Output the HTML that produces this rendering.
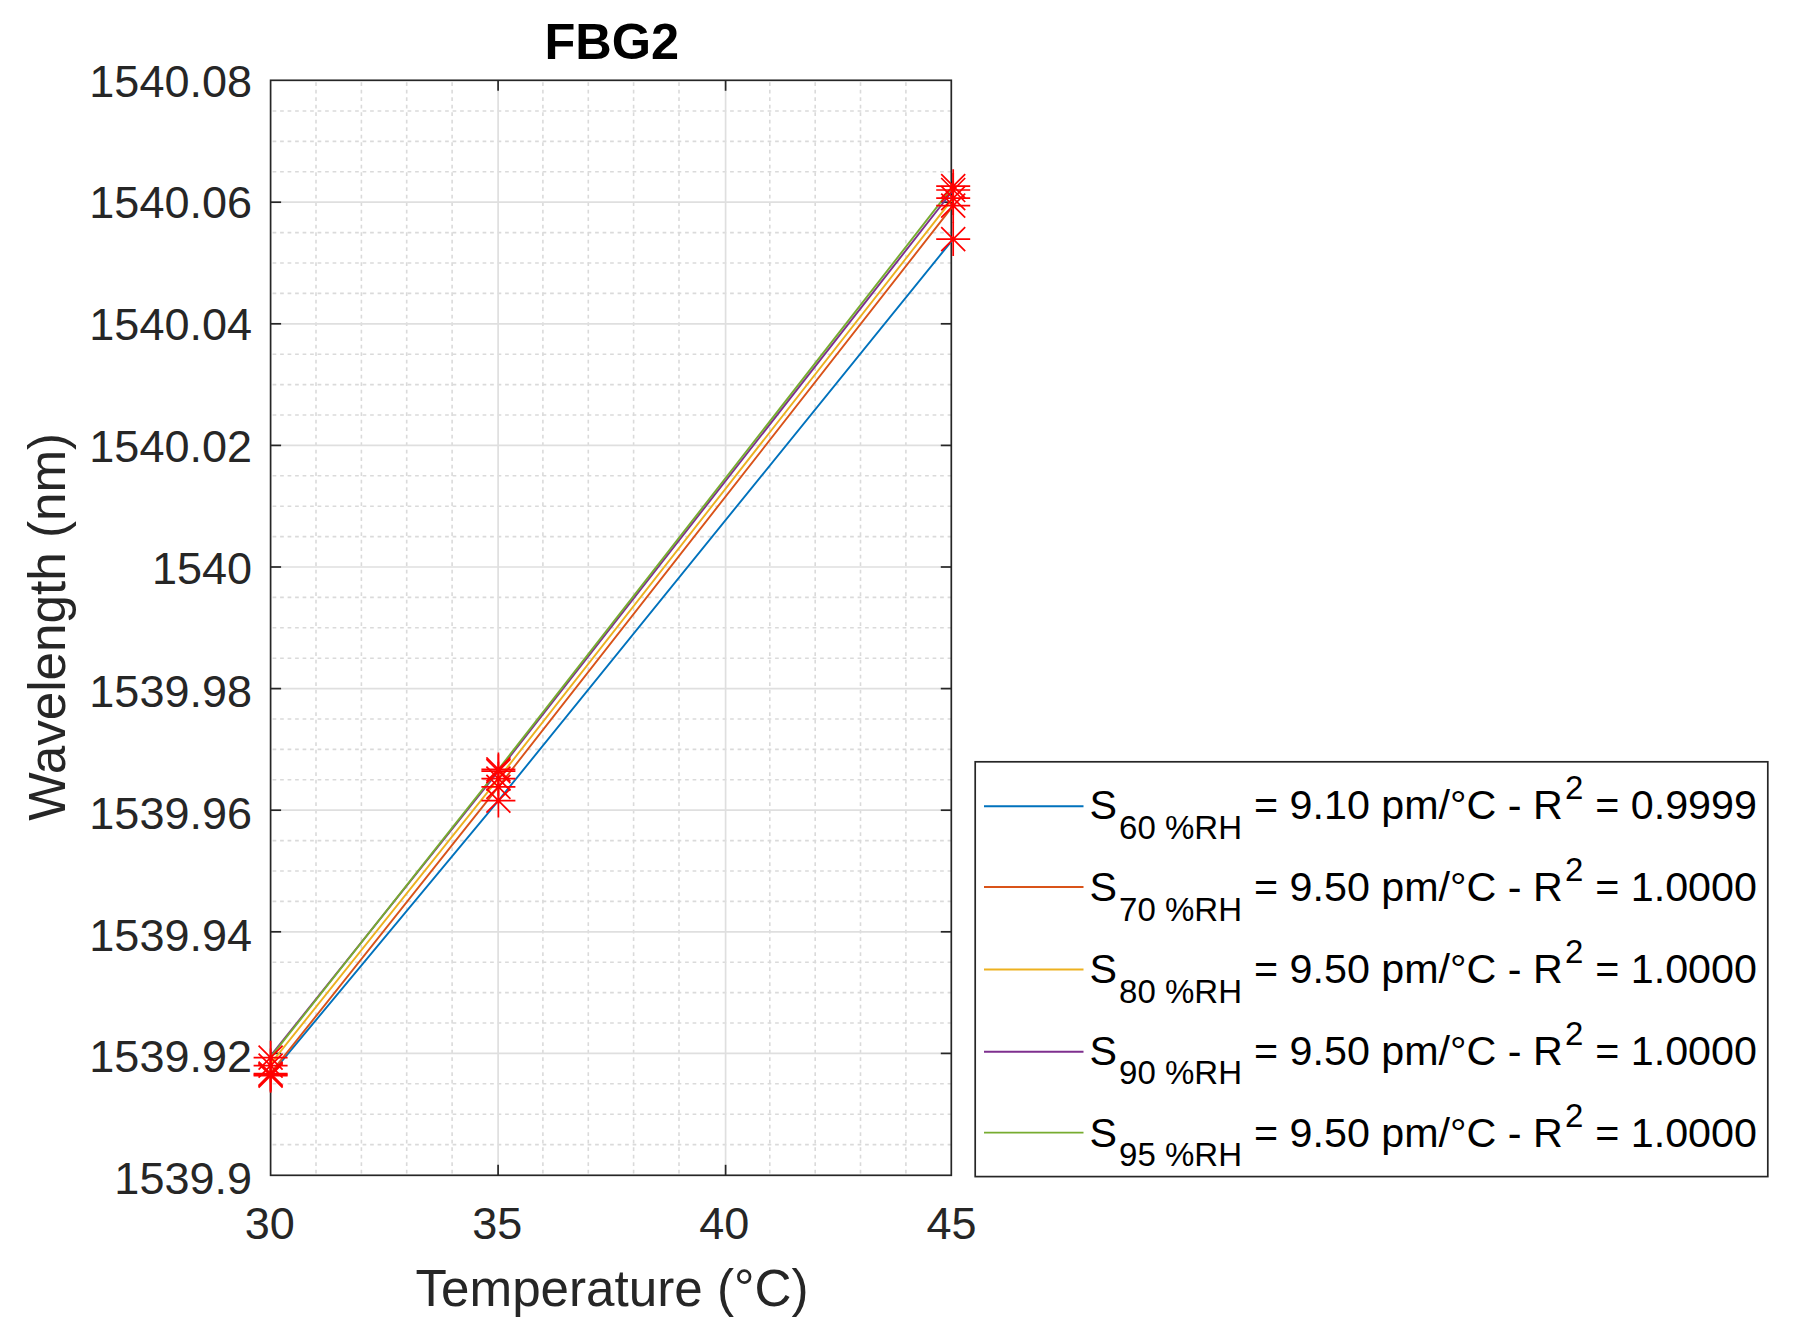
<!DOCTYPE html>
<html lang="en"><head><meta charset="utf-8"><title>FBG2</title>
<style>html,body{margin:0;padding:0;background:#fff}body{width:1794px;height:1334px;overflow:hidden}svg{display:block}text{font-family:"Liberation Sans",Arial,Helvetica,sans-serif}</style></head><body>
<svg width="1794" height="1334" viewBox="0 0 1794 1334">
<rect x="0" y="0" width="1794" height="1334" fill="#ffffff"/>
<g stroke="#dadada" stroke-width="1.6" stroke-dasharray="3.7 3.8" fill="none">
<line x1="316.0" y1="82.3" x2="316.0" y2="1175.3"/>
<line x1="361.4" y1="82.3" x2="361.4" y2="1175.3"/>
<line x1="406.7" y1="82.3" x2="406.7" y2="1175.3"/>
<line x1="452.1" y1="82.3" x2="452.1" y2="1175.3"/>
<line x1="542.9" y1="82.3" x2="542.9" y2="1175.3"/>
<line x1="588.3" y1="82.3" x2="588.3" y2="1175.3"/>
<line x1="633.6" y1="82.3" x2="633.6" y2="1175.3"/>
<line x1="679.0" y1="82.3" x2="679.0" y2="1175.3"/>
<line x1="769.8" y1="82.3" x2="769.8" y2="1175.3"/>
<line x1="815.2" y1="82.3" x2="815.2" y2="1175.3"/>
<line x1="860.5" y1="82.3" x2="860.5" y2="1175.3"/>
<line x1="905.9" y1="82.3" x2="905.9" y2="1175.3"/>
<line x1="272.6" y1="111.0" x2="951.3" y2="111.0"/>
<line x1="272.6" y1="141.4" x2="951.3" y2="141.4"/>
<line x1="272.6" y1="171.8" x2="951.3" y2="171.8"/>
<line x1="272.6" y1="232.6" x2="951.3" y2="232.6"/>
<line x1="272.6" y1="263.0" x2="951.3" y2="263.0"/>
<line x1="272.6" y1="293.4" x2="951.3" y2="293.4"/>
<line x1="272.6" y1="354.2" x2="951.3" y2="354.2"/>
<line x1="272.6" y1="384.6" x2="951.3" y2="384.6"/>
<line x1="272.6" y1="415.0" x2="951.3" y2="415.0"/>
<line x1="272.6" y1="475.8" x2="951.3" y2="475.8"/>
<line x1="272.6" y1="506.2" x2="951.3" y2="506.2"/>
<line x1="272.6" y1="536.6" x2="951.3" y2="536.6"/>
<line x1="272.6" y1="597.4" x2="951.3" y2="597.4"/>
<line x1="272.6" y1="627.8" x2="951.3" y2="627.8"/>
<line x1="272.6" y1="658.2" x2="951.3" y2="658.2"/>
<line x1="272.6" y1="719.0" x2="951.3" y2="719.0"/>
<line x1="272.6" y1="749.4" x2="951.3" y2="749.4"/>
<line x1="272.6" y1="779.8" x2="951.3" y2="779.8"/>
<line x1="272.6" y1="840.6" x2="951.3" y2="840.6"/>
<line x1="272.6" y1="871.0" x2="951.3" y2="871.0"/>
<line x1="272.6" y1="901.4" x2="951.3" y2="901.4"/>
<line x1="272.6" y1="962.2" x2="951.3" y2="962.2"/>
<line x1="272.6" y1="992.6" x2="951.3" y2="992.6"/>
<line x1="272.6" y1="1023.0" x2="951.3" y2="1023.0"/>
<line x1="272.6" y1="1083.8" x2="951.3" y2="1083.8"/>
<line x1="272.6" y1="1114.2" x2="951.3" y2="1114.2"/>
<line x1="272.6" y1="1144.6" x2="951.3" y2="1144.6"/>
</g>
<g stroke="#dfdfdf" stroke-width="1.7" fill="none">
<line x1="498.1" y1="80.3" x2="498.1" y2="1175.3"/>
<line x1="725.6" y1="80.3" x2="725.6" y2="1175.3"/>
<line x1="270.6" y1="202.2" x2="951.3" y2="202.2"/>
<line x1="270.6" y1="323.8" x2="951.3" y2="323.8"/>
<line x1="270.6" y1="445.4" x2="951.3" y2="445.4"/>
<line x1="270.6" y1="567.0" x2="951.3" y2="567.0"/>
<line x1="270.6" y1="688.6" x2="951.3" y2="688.6"/>
<line x1="270.6" y1="810.2" x2="951.3" y2="810.2"/>
<line x1="270.6" y1="931.8" x2="951.3" y2="931.8"/>
<line x1="270.6" y1="1053.4" x2="951.3" y2="1053.4"/>
</g>
<g stroke="#262626" stroke-width="1.7" fill="none">
<rect x="270.6" y="80.3" width="680.7" height="1095.0"/>
<line x1="498.1" y1="1175.3" x2="498.1" y2="1164.8"/>
<line x1="498.1" y1="80.3" x2="498.1" y2="90.8"/>
<line x1="725.6" y1="1175.3" x2="725.6" y2="1164.8"/>
<line x1="725.6" y1="80.3" x2="725.6" y2="90.8"/>
<line x1="270.6" y1="202.2" x2="281.1" y2="202.2"/>
<line x1="951.3" y1="202.2" x2="940.8" y2="202.2"/>
<line x1="270.6" y1="323.8" x2="281.1" y2="323.8"/>
<line x1="951.3" y1="323.8" x2="940.8" y2="323.8"/>
<line x1="270.6" y1="445.4" x2="281.1" y2="445.4"/>
<line x1="951.3" y1="445.4" x2="940.8" y2="445.4"/>
<line x1="270.6" y1="567.0" x2="281.1" y2="567.0"/>
<line x1="951.3" y1="567.0" x2="940.8" y2="567.0"/>
<line x1="270.6" y1="688.6" x2="281.1" y2="688.6"/>
<line x1="951.3" y1="688.6" x2="940.8" y2="688.6"/>
<line x1="270.6" y1="810.2" x2="281.1" y2="810.2"/>
<line x1="951.3" y1="810.2" x2="940.8" y2="810.2"/>
<line x1="270.6" y1="931.8" x2="281.1" y2="931.8"/>
<line x1="951.3" y1="931.8" x2="940.8" y2="931.8"/>
<line x1="270.6" y1="1053.4" x2="281.1" y2="1053.4"/>
<line x1="951.3" y1="1053.4" x2="940.8" y2="1053.4"/>
</g>
<g stroke-width="1.9" fill="none" stroke-linecap="butt" stroke-linejoin="round">
<polyline points="270.6,1074.7 498.4,800.6 953.2,239.1" stroke="#0072BD"/>
<polyline points="270.6,1073.2 498.4,786.8 953.2,205.7" stroke="#D95319"/>
<polyline points="270.6,1063.8 498.4,778.7 953.2,198.1" stroke="#EDB120"/>
<polyline points="270.6,1055.8 498.4,771.2 953.2,190.0" stroke="#7E2F8E"/>
<polyline points="270.6,1057.2 498.4,769.4 953.2,186.2" stroke="#77AC30"/>
</g>
<g stroke="#ff0000" stroke-width="1.7" fill="none">
<path d="M253.6 1057.7H287.6M270.6 1040.7V1074.7M258.6 1045.7L282.6 1069.7M258.6 1069.7L282.6 1045.7"/>
<path d="M253.6 1065.6H287.6M270.6 1048.6V1082.6M258.6 1053.6L282.6 1077.6M258.6 1077.6L282.6 1053.6"/>
<path d="M253.6 1073.7H287.6M270.6 1056.7V1090.7M258.6 1061.7L282.6 1085.7M258.6 1085.7L282.6 1061.7"/>
<path d="M253.6 1074.7H287.6M270.6 1057.7V1091.7M258.6 1062.7L282.6 1086.7M258.6 1086.7L282.6 1062.7"/>
<path d="M253.6 1075.7H287.6M270.6 1058.7V1092.7M258.6 1063.7L282.6 1087.7M258.6 1087.7L282.6 1063.7"/>
<path d="M481.4 769.4H515.4M498.4 752.4V786.4M486.4 757.4L510.4 781.4M486.4 781.4L510.4 757.4"/>
<path d="M481.4 771.2H515.4M498.4 754.2V788.2M486.4 759.2L510.4 783.2M486.4 783.2L510.4 759.2"/>
<path d="M481.4 778.7H515.4M498.4 761.7V795.7M486.4 766.7L510.4 790.7M486.4 790.7L510.4 766.7"/>
<path d="M481.4 786.8H515.4M498.4 769.8V803.8M486.4 774.8L510.4 798.8M486.4 798.8L510.4 774.8"/>
<path d="M481.4 800.6H515.4M498.4 783.6V817.6M486.4 788.6L510.4 812.6M486.4 812.6L510.4 788.6"/>
<path d="M936.2 186.2H970.2M953.2 169.2V203.2M941.2 174.2L965.2 198.2M941.2 198.2L965.2 174.2"/>
<path d="M936.2 190.0H970.2M953.2 173.0V207.0M941.2 178.0L965.2 202.0M941.2 202.0L965.2 178.0"/>
<path d="M936.2 198.1H970.2M953.2 181.1V215.1M941.2 186.1L965.2 210.1M941.2 210.1L965.2 186.1"/>
<path d="M936.2 205.7H970.2M953.2 188.7V222.7M941.2 193.7L965.2 217.7M941.2 217.7L965.2 193.7"/>
<path d="M936.2 239.1H970.2M953.2 222.1V256.1M941.2 227.1L965.2 251.1M941.2 251.1L965.2 227.1"/>
</g>
<g fill="#262626" font-size="45px">
<text x="252" y="96.8" text-anchor="end">1540.08</text>
<text x="252" y="218.4" text-anchor="end">1540.06</text>
<text x="252" y="340.0" text-anchor="end">1540.04</text>
<text x="252" y="461.6" text-anchor="end">1540.02</text>
<text x="252" y="583.8" text-anchor="end">1540</text>
<text x="252" y="707.3" text-anchor="end">1539.98</text>
<text x="252" y="828.9" text-anchor="end">1539.96</text>
<text x="252" y="950.5" text-anchor="end">1539.94</text>
<text x="252" y="1072.1" text-anchor="end">1539.92</text>
<text x="252" y="1193.7" text-anchor="end">1539.9</text>
<text x="269.8" y="1239.3" text-anchor="middle">30</text>
<text x="497.2" y="1239.3" text-anchor="middle">35</text>
<text x="724.2" y="1239.3" text-anchor="middle">40</text>
<text x="951.5" y="1239.3" text-anchor="middle">45</text>
</g>
<text x="612" y="1306.2" text-anchor="middle" font-size="51.2px" fill="#262626">Temperature (°C)</text>
<text transform="translate(65.0,626.8) rotate(-90)" text-anchor="middle" font-size="51.2px" fill="#262626">Wavelength (nm)</text>
<text x="611.8" y="59.4" text-anchor="middle" font-size="50.5px" font-weight="bold" fill="#000000">FBG2</text>
<rect x="975.2" y="761.8" width="792.6" height="414.8" fill="#ffffff" stroke="#262626" stroke-width="1.7"/>
<g fill="#000000" font-size="41.25px">
<line x1="984" y1="806.3" x2="1083.5" y2="806.3" stroke="#0072BD" stroke-width="1.9"/>
<text x="1089.5" y="819.4">S</text>
<text x="1119.1" y="838.8" font-size="33px">60 %RH</text>
<text x="1254" y="819.4">= 9.10 pm/°C - R</text>
<text x="1564.9" y="799.4" font-size="33px">2</text>
<text x="1595.2" y="819.4">= 0.9999</text>
<line x1="984" y1="887.0" x2="1083.5" y2="887.0" stroke="#D95319" stroke-width="1.9"/>
<text x="1089.5" y="901.2">S</text>
<text x="1119.1" y="920.6" font-size="33px">70 %RH</text>
<text x="1254" y="901.2">= 9.50 pm/°C - R</text>
<text x="1564.9" y="881.2" font-size="33px">2</text>
<text x="1595.2" y="901.2">= 1.0000</text>
<line x1="984" y1="969.5" x2="1083.5" y2="969.5" stroke="#EDB120" stroke-width="1.9"/>
<text x="1089.5" y="983.1">S</text>
<text x="1119.1" y="1002.5" font-size="33px">80 %RH</text>
<text x="1254" y="983.1">= 9.50 pm/°C - R</text>
<text x="1564.9" y="963.1" font-size="33px">2</text>
<text x="1595.2" y="983.1">= 1.0000</text>
<line x1="984" y1="1051.8" x2="1083.5" y2="1051.8" stroke="#7E2F8E" stroke-width="1.9"/>
<text x="1089.5" y="1065.0">S</text>
<text x="1119.1" y="1084.4" font-size="33px">90 %RH</text>
<text x="1254" y="1065.0">= 9.50 pm/°C - R</text>
<text x="1564.9" y="1045.0" font-size="33px">2</text>
<text x="1595.2" y="1065.0">= 1.0000</text>
<line x1="984" y1="1132.6" x2="1083.5" y2="1132.6" stroke="#77AC30" stroke-width="1.9"/>
<text x="1089.5" y="1146.8">S</text>
<text x="1119.1" y="1166.2" font-size="33px">95 %RH</text>
<text x="1254" y="1146.8">= 9.50 pm/°C - R</text>
<text x="1564.9" y="1126.8" font-size="33px">2</text>
<text x="1595.2" y="1146.8">= 1.0000</text>
</g>
</svg></body></html>
